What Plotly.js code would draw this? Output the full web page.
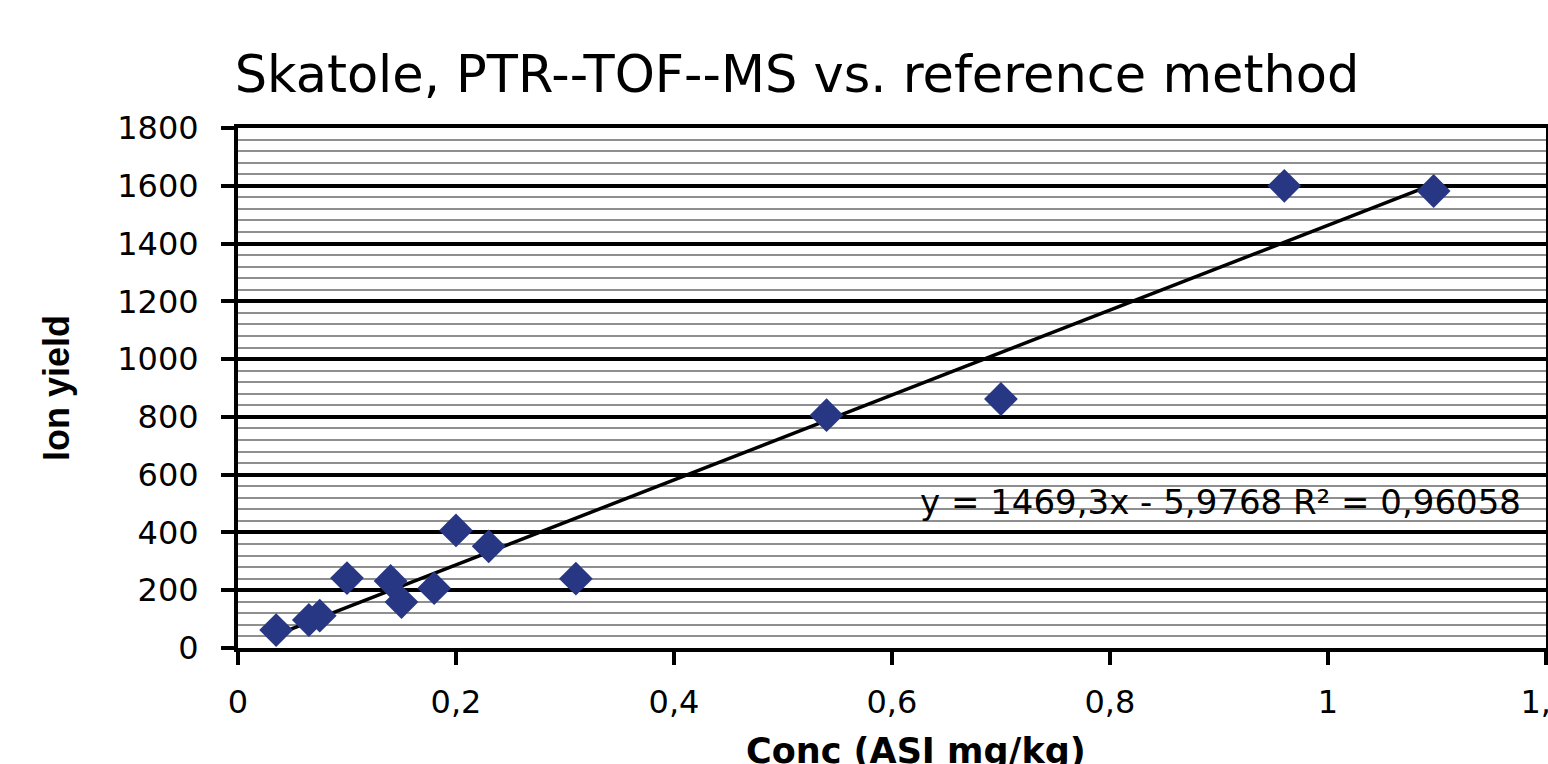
<!DOCTYPE html>
<html>
<head>
<meta charset="utf-8">
<script src="https://cdn.plot.ly/plotly-3.0.1.min.js"></script>
<style>html,body{margin:0;padding:0;background:#fff;overflow:hidden}</style>
</head>
<body>
<div id="chart" style="width:1548px;height:764px"></div>
<script>
// Data
const concASI = [0.035, 0.065, 0.075, 0.1, 0.14, 0.15, 0.18, 0.2, 0.23, 0.31, 0.54, 0.70, 0.96, 1.097];
const ionYield = [62, 97, 112, 242, 232, 159, 207, 407, 352, 240, 806, 862, 1600, 1582];
const trendSlope = 1469.3;
const trendIntercept = -5.9768;
const trendLabel = "y = 1469,3x - 5,9768 R² = 0,96058";
const titleText = "Skatole, PTR--TOF--MS vs. reference method";
const xTitle = "Conc (ASI mg/kg)";
const yTitle = "Ion yield";

const xMin = Math.min(...concASI), xMax = Math.max(...concASI);
const trendX = [xMin, xMax];
const trendY = trendX.map(v => trendSlope * v + trendIntercept);

const traces = [
  {
    x: trendX, y: trendY, type: 'scatter', mode: 'lines',
    line: {color: '#000', width: 3.5}, hoverinfo: 'skip', showlegend: false
  },
  {
    x: concASI, y: ionYield, type: 'scatter', mode: 'markers',
    marker: {symbol: 'diamond', size: 26, color: '#283783', line: {width: 0}},
    hoverinfo: 'x+y', showlegend: false
  }
];

const layout = {
  width: 1548, height: 764,
  margin: {l: 238, r: 2, t: 128, b: 116, pad: 0},
  paper_bgcolor: '#fff', plot_bgcolor: '#fff',
  separators: ', ',
  font: {family: 'DejaVu Sans, Verdana, sans-serif', color: '#000', size: 32},
  title: {
    text: titleText, font: {family: 'DejaVu Sans, Verdana, sans-serif', size: 51, color: '#000'},
    xref: 'paper', x: (797 - 238) / 1308, xanchor: 'center',
    yref: 'container', y: 1 - 74 / 764, yanchor: 'middle'
  },
  xaxis: {
    range: [0, 1.2001], dtick: 0.2, tick0: 0,
    showgrid: false, zeroline: false,
    showline: true, linecolor: '#000', linewidth: 4, mirror: true,
    ticks: 'outside', ticklen: 13, tickwidth: 4, tickcolor: '#000',
    tickfont: {size: 32, color: '#000'},
    ticklabelstandoff: 10, ticklabeloverflow: 'allow',
    automargin: false, fixedrange: true
  },
  yaxis: {
    range: [0, 1800], dtick: 200, tick0: 0,
    showgrid: true, gridcolor: '#000', gridwidth: 4,
    zeroline: false,
    showline: true, linecolor: '#000', linewidth: 4, mirror: true,
    ticks: 'outside', ticklen: 13, tickwidth: 4, tickcolor: '#000',
    tickfont: {size: 32, color: '#000'},
    ticklabelstandoff: 16,
    minor: {dtick: 40, showgrid: true, gridcolor: '#8f8f8f', gridwidth: 2, ticks: ''},
    title: {text: yTitle, font: {family: 'Liberation Sans, Arial, sans-serif', size: 36, color: '#000', weight: 'bold'}, standoff: 38},
    automargin: false, fixedrange: true
  },
  annotations: [
    {
      text: trendLabel, xref: 'x', yref: 'y', x: (1523 - 238) / 1090, y: 505,
      showarrow: false, xanchor: 'right', yanchor: 'middle',
      font: {family: 'DejaVu Sans, Verdana, sans-serif', size: 34, color: '#000'}
    },
    {
      text: '<b>' + xTitle + '</b>', xref: 'paper', yref: 'paper',
      x: (916 - 238) / 1308, y: -(751 - 648) / 520,
      showarrow: false, xanchor: 'center', yanchor: 'middle',
      font: {family: 'DejaVu Sans, Verdana, sans-serif', size: 35, color: '#000'}
    }
  ]
};

Plotly.newPlot('chart', traces, layout, {staticPlot: true, displayModeBar: false});
</script>
</body>
</html>
